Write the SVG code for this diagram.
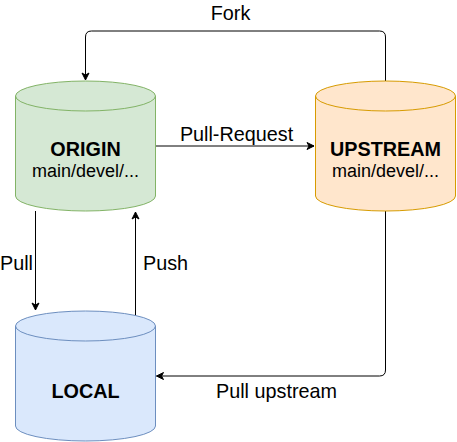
<svg xmlns="http://www.w3.org/2000/svg" width="457" height="442" viewBox="0 0 457 442">
<style>
text{font-family:"Liberation Sans",Arial,sans-serif;font-size:19.8px;fill:#000}
.b{font-weight:bold}
.s{font-size:18px}
.e{stroke:#000;stroke-width:1;fill:none}
</style>
<defs>
<marker id="a" markerWidth="10" markerHeight="10" refX="8" refY="5" orient="auto" markerUnits="userSpaceOnUse"><path d="M1,1.5 L8,5 L1,8.5 L3,5 Z" fill="#000" stroke="#000" stroke-width="1"/></marker>
</defs>
<rect width="457" height="442" fill="#fff"/>
<g id="connectors">
<path class="e" d="M385.5,81 V37 Q385.5,31 379.5,31 H91.5 Q85.5,31 85.5,37 V80" marker-end="url(#a)"/>
<path class="e" d="M155.5,146 H314" marker-end="url(#a)"/>
<path class="e" d="M35.5,211 V310" marker-end="url(#a)"/>
<path class="e" d="M135.5,316 V212" marker-end="url(#a)"/>
<path class="e" d="M385.5,211 V370 Q385.5,376 379.5,376 H156.5" marker-end="url(#a)"/>
<text x="230.5" y="20" text-anchor="middle">Fork</text>
<text x="236.5" y="141" text-anchor="middle">Pull-Request</text>
<text x="16.5" y="269.5" text-anchor="middle">Pull</text>
<text x="165.5" y="269.5" text-anchor="middle">Push</text>
<text x="276.5" y="397.5" text-anchor="middle">Pull upstream</text>
</g>
<g id="origin">
<path d="M15.5,96 A70,15 0 0 1 155.5,96 V196 A70,15 0 0 1 15.5,196 Z" fill="#d5e8d4" stroke="#82b366"/>
<path d="M15.5,96 A70,15 0 0 0 155.5,96" fill="none" stroke="#82b366"/>
<text x="85.5" y="156" text-anchor="middle" class="b">ORIGIN</text>
<text x="85.5" y="176.5" text-anchor="middle" class="s">main/devel/...</text>
</g>
<g id="upstream">
<path d="M315.5,96 A70,15 0 0 1 455.5,96 V196 A70,15 0 0 1 315.5,196 Z" fill="#ffe6cc" stroke="#d79b00"/>
<path d="M315.5,96 A70,15 0 0 0 455.5,96" fill="none" stroke="#d79b00"/>
<text x="385.5" y="156" text-anchor="middle" class="b">UPSTREAM</text>
<text x="385.5" y="176.5" text-anchor="middle" class="s">main/devel/...</text>
</g>
<g id="local">
<path d="M15.5,326 A70,15 0 0 1 155.5,326 V426 A70,15 0 0 1 15.5,426 Z" fill="#dae8fc" stroke="#6c8ebf"/>
<path d="M15.5,326 A70,15 0 0 0 155.5,326" fill="none" stroke="#6c8ebf"/>
<text x="85.5" y="397.5" text-anchor="middle" class="b">LOCAL</text>
</g>
</svg>
